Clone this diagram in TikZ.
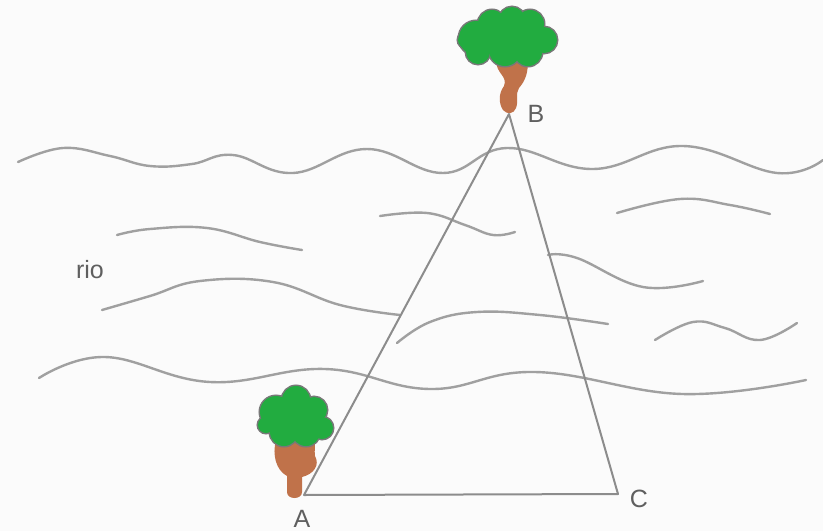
\documentclass[tikz,border=0pt]{standalone}
\usepackage{fontspec}
\setmainfont{Liberation Sans}
\definecolor{paper}{RGB}{251,251,251}
\definecolor{leaf}{RGB}{34,172,64}
\definecolor{leafedge}{RGB}{120,120,120}
\definecolor{bark}{RGB}{192,114,74}
\definecolor{waveline}{RGB}{160,160,160}
\definecolor{edgeline}{RGB}{140,140,140}
\definecolor{labeltext}{RGB}{95,95,95}
\begin{document}
\begin{tikzpicture}[x=1pt,y=-1pt,
  wave/.style={draw=waveline,line width=2.4pt,line cap=round},
  side/.style={draw=edgeline,line width=2pt,line join=round},
  lbl/.style={text=labeltext,font=\fontsize{25}{28}\selectfont,anchor=base,inner sep=0pt},
  crownedge/.style={draw=leafedge,line width=3pt},
  crown/.style={fill=leaf},
  trunk/.style={fill=bark}]
\fill[paper] (0,0) rectangle (823,531);
\useasboundingbox (0,0) rectangle (823,531);

% river banks and ripples
\draw[wave] plot[smooth,tension=0.7] coordinates {(18,162) (63,148) (110,156) (150,166) (192,164) (233,155) (293,173) (367,149) (443,173) (507,148) (593,169) (683,146) (777,173) (823,160)};
\draw[wave] plot[smooth,tension=0.7] coordinates {(117,235) (150,229) (207,228) (260,242) (302,250)};
\draw[wave] plot[smooth,tension=0.7] coordinates {(102,310) (150,296) (200,281) (273,282) (340,305) (400,315)};
\draw[wave] plot[smooth,tension=0.7] coordinates {(380,216) (427,213) (465,225) (493,235) (515,232)};
\draw[wave] plot[smooth,tension=0.7] coordinates {(617,213) (680,199) (730,205) (770,214)};
\draw[wave] plot[smooth,tension=0.7] coordinates {(548,255) (577,258) (643,287) (703,281)};
\draw[wave] plot[smooth,tension=0.7] coordinates {(397,343) (430,322) (477,312) (540,315) (608,324)};
\draw[wave] plot[smooth,tension=0.7] coordinates {(655,340) (693,322) (725,328) (760,340) (797,323)};
\draw[wave] plot[smooth,tension=0.7] coordinates {(39,378) (105,357) (210,382) (325,369) (430,389) (535,372) (682,394) (806,380)};

% tree beside B
\def\crownB{476/38/17, 492/24/14, 512/20/13, 530/24/14, 544/40/13, 528/52/14, 505/50/16, 478/52/12, 466/40/8, 505/36/20, 526/38/16}
\path[trunk] (496,60) .. controls (496,74) and (508,76) .. (504,86)
  .. controls (498,94) and (499,104) .. (503,110)
  .. controls (507,115) and (514,114) .. (516,108)
  .. controls (519,100) and (515,94) .. (519,88)
  .. controls (526,80) and (528,72) .. (528,60) -- cycle;
\foreach \cx/\cy/\r in \crownB
  \draw[crownedge] (\cx,\cy) circle (\r);
\foreach \cx/\cy/\r in \crownB
  \fill[crown] (\cx,\cy) circle (\r);

% tree beside A
\def\crownA{276/412/16, 296/400/14, 314/410/13, 322/428/11, 306/432/14, 284/432/14, 266/425/8, 296/418/17}
\path[trunk] (276,440) .. controls (272,455) and (276,470) .. (287,476)
  -- (287,492) .. controls (287,500) and (302,500) .. (302,492)
  -- (302,477) .. controls (314,474) and (320,465) .. (315,456)
  .. controls (314,450) and (316,446) .. (314,440) -- cycle;
\foreach \cx/\cy/\r in \crownA
  \draw[crownedge] (\cx,\cy) circle (\r);
\foreach \cx/\cy/\r in \crownA
  \fill[crown] (\cx,\cy) circle (\r);

% triangle
\coordinate (vA) at (304,495);
\coordinate (vB) at (509,114);
\coordinate (vC) at (618,494);
\draw[side] (vA) -- (vB) -- (vC) -- cycle;

% labels
\node[lbl] (labA) at (302,527) {A};
\node[lbl] (labB) at (536,122) {B};
\node[lbl] (labC) at (639,507) {C};
\node[lbl] (rio) at (90,278) {rio};
\end{tikzpicture}
\end{document}
